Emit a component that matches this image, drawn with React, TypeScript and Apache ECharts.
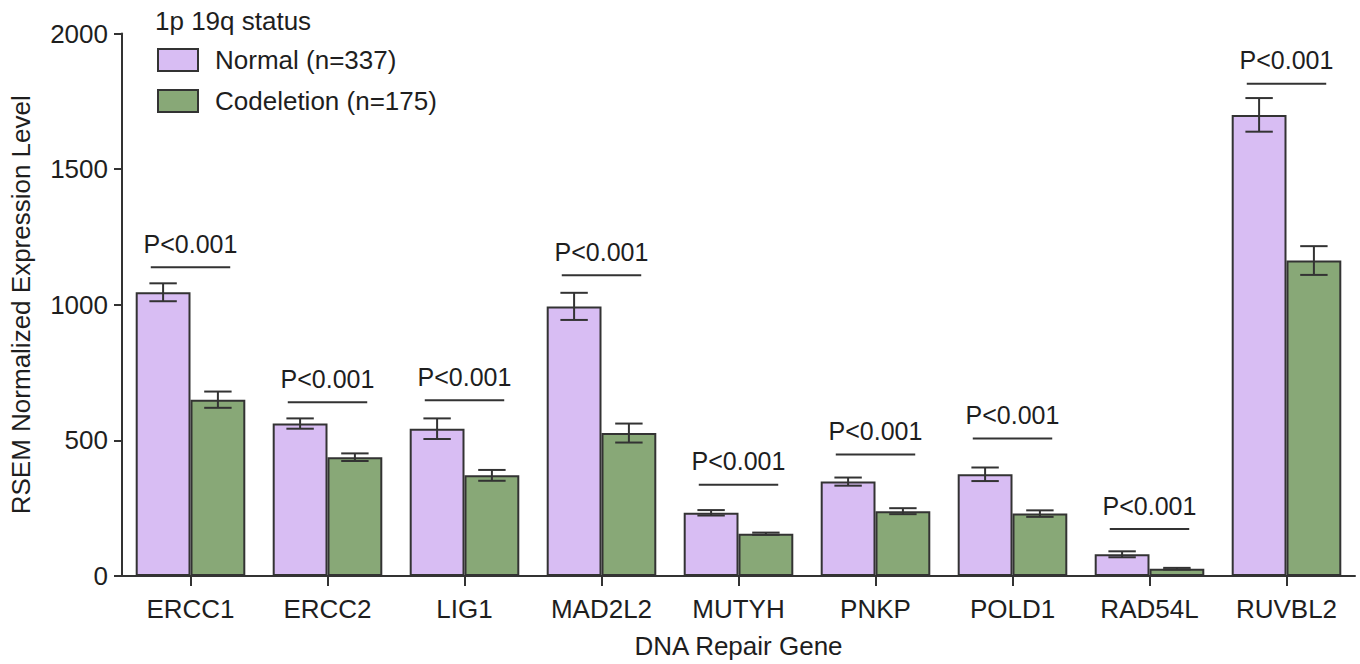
import React, { useEffect, useRef } from "react";
import * as echarts from "echarts";

const categories = ["ERCC1", "ERCC2", "LIG1", "MAD2L2", "MUTYH", "PNKP", "POLD1", "RAD54L", "RUVBL2"];
const normalMeans = [1046, 562, 543, 994, 233, 348, 375, 80, 1700];
const normalErrors = [33, 19, 38, 50, 10, 15, 25, 11, 62];
const codelMeans = [650, 438, 371, 527, 156, 239, 230, 27, 1163];
const codelErrors = [30, 14, 20, 35, 4, 11, 12, 3, 53];
const sigLineLevels = [1138, 641, 648, 1109, 336, 448, 507, 173, 1815];
const sigLabels = ["P<0.001", "P<0.001", "P<0.001", "P<0.001", "P<0.001", "P<0.001", "P<0.001", "P<0.001", "P<0.001"];
const yTicks = [0, 500, 1000, 1500, 2000];

const FONT = "'Liberation Sans', Arial, sans-serif";
const INK = "#333333";
const TEXT = "#1e1e1e";
const NORMAL_COLOR = "#d8bdf3";
const CODEL_COLOR = "#88a877";
const FS = 26;

export default function App() {
  const ref = useRef<HTMLDivElement>(null);

  useEffect(() => {
    if (!ref.current) return;
    const chart = echarts.init(ref.current, null, { renderer: "svg" });

    const errorRender = (offsetFrac: number) => (params: any, api: any) => {
      const idx = api.value(0);
      const mean = api.value(1);
      const err = api.value(2);
      const band = api.size([1, 0])[0];
      const cx = api.coord([idx, mean])[0] + offsetFrac * band;
      const yTop = api.coord([idx, mean + err])[1];
      const yBot = api.coord([idx, mean - err])[1];
      const half = 0.1 * band;
      const style = { stroke: INK, lineWidth: 2 };
      return {
        type: "group",
        children: [
          { type: "line", shape: { x1: cx, y1: yTop, x2: cx, y2: yBot }, style },
          { type: "line", shape: { x1: cx - half, y1: yTop, x2: cx + half, y2: yTop }, style },
          { type: "line", shape: { x1: cx - half, y1: yBot, x2: cx + half, y2: yBot }, style },
        ],
      };
    };

    const sigRender = (params: any, api: any) => {
      const idx = api.value(0);
      const level = api.value(1);
      const band = api.size([1, 0])[0];
      const p = api.coord([idx, level]);
      const half = 0.29 * band;
      return {
        type: "group",
        children: [
          {
            type: "line",
            shape: { x1: p[0] - half, y1: p[1], x2: p[0] + half, y2: p[1] },
            style: { stroke: INK, lineWidth: 2 },
          },
          {
            type: "text",
            x: p[0],
            y: p[1] - 11,
            style: {
              text: sigLabels[idx],
              fill: TEXT,
              font: `25px ${FONT}`,
              align: "center",
              verticalAlign: "bottom",
            },
          },
        ],
      };
    };

    chart.setOption({
      animation: false,
      backgroundColor: "#ffffff",
      textStyle: { fontFamily: FONT },
      title: {
        text: "1p 19q status",
        left: 150,
        top: 3,
        textStyle: { fontFamily: FONT, fontSize: FS, fontWeight: "normal", color: TEXT, lineHeight: 26 },
      },
      legend: {
        orient: "vertical",
        left: 152,
        top: 42,
        itemWidth: 40,
        itemHeight: 22,
        itemGap: 15,
        icon: "rect",
        data: ["Normal (n=337)", "Codeletion (n=175)"],
        textStyle: { fontFamily: FONT, fontSize: FS, color: TEXT, lineHeight: 26, padding: [0, 0, 0, 12] },
      },
      grid: { left: 122, right: 5, top: 33.5, bottom: 80, containLabel: false },
      xAxis: {
        type: "category",
        data: categories,
        name: "DNA Repair Gene",
        nameLocation: "middle",
        nameGap: 57,
        nameTextStyle: { fontFamily: FONT, fontSize: FS, color: TEXT },
        axisLine: { lineStyle: { color: INK, width: 2 } },
        axisTick: { show: true, alignWithLabel: true, length: 10, lineStyle: { color: INK, width: 2 } },
        axisLabel: { fontFamily: FONT, fontSize: FS, color: TEXT, margin: 20 },
      },
      yAxis: {
        type: "value",
        min: yTicks[0],
        max: yTicks[yTicks.length - 1],
        interval: 500,
        name: "RSEM Normalized Expression Level",
        nameLocation: "middle",
        nameGap: 88,
        nameTextStyle: { fontFamily: FONT, fontSize: FS, color: TEXT },
        axisLine: { show: true, lineStyle: { color: INK, width: 2 } },
        axisTick: { show: true, length: 8, lineStyle: { color: INK, width: 2 } },
        axisLabel: { fontFamily: FONT, fontSize: FS, color: TEXT, margin: 14, formatter: (v: number) => String(v) },
        splitLine: { show: false },
      },
      series: [
        {
          name: "Normal (n=337)",
          type: "bar",
          data: normalMeans,
          barGap: "0%",
          barCategoryGap: "20%",
          itemStyle: { color: NORMAL_COLOR, borderColor: INK, borderWidth: 2 },
        },
        {
          name: "Codeletion (n=175)",
          type: "bar",
          data: codelMeans,
          barGap: "0%",
          barCategoryGap: "20%",
          itemStyle: { color: CODEL_COLOR, borderColor: INK, borderWidth: 2 },
        },
        {
          type: "custom",
          renderItem: errorRender(-0.2),
          data: normalMeans.map((m, i) => [i, m, normalErrors[i]]),
          encode: { x: 0, y: 1 },
          z: 10,
          silent: true,
        },
        {
          type: "custom",
          renderItem: errorRender(0.2),
          data: codelMeans.map((m, i) => [i, m, codelErrors[i]]),
          encode: { x: 0, y: 1 },
          z: 10,
          silent: true,
        },
        {
          type: "custom",
          renderItem: sigRender,
          data: sigLineLevels.map((l, i) => [i, l]),
          encode: { x: 0, y: 1 },
          z: 10,
          silent: true,
        },
      ],
    });

    return () => chart.dispose();
  }, []);

  return (
    <div
      ref={ref}
      style={{ position: "fixed", left: 0, top: 0, width: 1360, height: 664, background: "#fff" }}
    />
  );
}
